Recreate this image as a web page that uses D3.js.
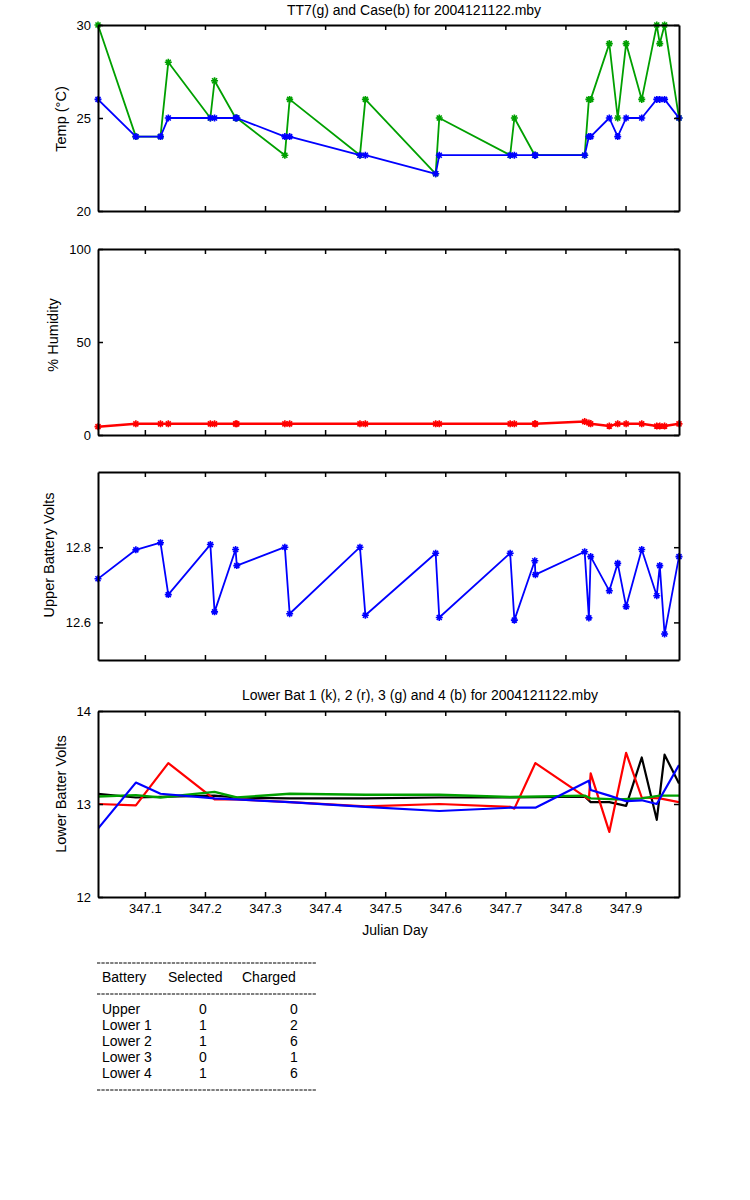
<!DOCTYPE html>
<html>
<head>
<meta charset="utf-8">
<script src="https://cdn.jsdelivr.net/npm/d3@7"></script>
<style>
  body { margin: 0; background: #fff; }
  svg { font-family: "Liberation Sans", Arial, sans-serif; }
</style>
</head>
<body>
<svg id="chart" width="750" height="1200"></svg>
<script>
// sample times (Julian day) shared by the top three panels
var days = [347.022, 347.085, 347.126, 347.139, 347.209, 347.216, 347.251, 347.253, 347.333, 347.341,
  347.458, 347.467, 347.584, 347.590, 347.708, 347.715, 347.749, 347.750, 347.832, 347.839,
  347.842, 347.873, 347.887, 347.901, 347.927, 347.952, 347.957, 347.965, 347.989];

// temperatures
var tt7 = [30, 24, 24, 28, 25, 27, 25, 25, 23, 26, 23, 26, 22, 25, 23, 25, 23, 23, 23, 26, 26, 29, 25, 29, 26, 30, 29, 30, 25];
var caseT = [26, 24, 24, 25, 25, 25, 25, 25, 24, 24, 23, 23, 22, 23, 23, 23, 23, 23, 23, 24, 24, 25, 24, 25, 25, 26, 26, 26, 25];

// humidity
var humidity = [4.5, 6, 6, 6, 6, 6, 6, 6, 6, 6, 6, 6, 6, 6, 6, 6, 6, 6, 7.2, 6.5, 6, 4.8, 6, 6, 6, 4.8, 4.8, 4.8, 6];

// upper battery
var upperBat = [12.716, 12.793, 12.812, 12.674, 12.807, 12.628, 12.794, 12.751, 12.800, 12.623,
  12.800, 12.619, 12.784, 12.613, 12.784, 12.606, 12.764, 12.727, 12.788, 12.612,
  12.775, 12.684, 12.757, 12.642, 12.794, 12.671, 12.751, 12.569, 12.775];

// lower batteries
var bat1Days = [347.022, 347.085, 347.139, 347.216, 347.253, 347.341, 347.467, 347.590, 347.715, 347.832, 347.842, 347.873, 347.901, 347.927, 347.952, 347.965, 347.989];
var bat1 = [13.11, 13.07, 13.08, 13.09, 13.07, 13.06, 13.06, 13.07, 13.07, 13.08, 13.02, 13.02, 12.98, 13.50, 12.83, 13.53, 13.22];
var bat2Days = [347.022, 347.085, 347.139, 347.216, 347.253, 347.341, 347.467, 347.590, 347.708, 347.715, 347.750, 347.839, 347.842, 347.873, 347.901, 347.927, 347.957, 347.989];
var bat2 = [13.00, 12.985, 13.44, 13.05, 13.05, 13.02, 12.975, 13.00, 12.97, 12.95, 13.44, 13.05, 13.33, 12.70, 13.55, 13.07, 13.06, 13.02];
var bat3Days = [347.022, 347.085, 347.126, 347.216, 347.253, 347.341, 347.467, 347.590, 347.708, 347.832, 347.842, 347.887, 347.927, 347.957, 347.989];
var bat3 = [13.08, 13.095, 13.07, 13.13, 13.07, 13.11, 13.10, 13.10, 13.075, 13.09, 13.06, 13.05, 13.06, 13.09, 13.09];
var bat4Days = [347.022, 347.085, 347.126, 347.216, 347.341, 347.467, 347.590, 347.708, 347.750, 347.839, 347.842, 347.873, 347.901, 347.927, 347.952, 347.989];
var bat4 = [12.735, 13.23, 13.11, 13.06, 13.02, 12.97, 12.925, 12.96, 12.96, 13.25, 13.15, 13.09, 13.03, 13.04, 13.00, 13.42];

// axis ticks
var xTicks = [347.1, 347.2, 347.3, 347.4, 347.5, 347.6, 347.7, 347.8, 347.9];

// status table
var tableHead = ["Battery", "Selected", "Charged"];
var batNames = ["Upper", "Lower 1", "Lower 2", "Lower 3", "Lower 4"];
var selected = [0, 1, 1, 0, 1];
var charged = [0, 2, 6, 1, 6];

var GREEN = "#00a000";
var svg = d3.select("#chart");
var x = d3.scaleLinear().domain([days[0], days[days.length - 1]]).range([98, 679]);

function zip(ds, vs) { return ds.map(function (d, i) { return [d, vs[i]]; }); }

var asterisk = "M-3.5,0H3.5M0,-3.5V3.5M-2.5,-2.5L2.5,2.5M-2.5,2.5L2.5,-2.5";

function panel(top, bottom, yDom, id) {
	var y = d3.scaleLinear().domain(yDom).range([bottom, top]);
	var g = svg.append("g");
	svg.append("clipPath").attr("id", id).append("rect")
		.attr("x", 98).attr("y", top).attr("width", 581).attr("height", bottom - top);
	return { y: y, g: g, top: top, bottom: bottom, clip: id };
}

function drawAxes(p, yTicks, showX) {
	var g = p.g;
	var ax = [
		[d3.axisLeft(p.y).tickValues(yTicks).tickFormat(d3.format("~g")), "translate(98,0)"],
		[d3.axisRight(p.y).tickValues(yTicks).tickFormat(""), "translate(679,0)"],
		[d3.axisTop(x).tickValues(xTicks).tickFormat(""), "translate(0," + p.top + ")"],
		[d3.axisBottom(x).tickValues(xTicks).tickFormat(showX ? d3.format(".1f") : ""), "translate(0," + p.bottom + ")"]
	];
	ax.forEach(function (a) {
		var s = g.append("g").attr("transform", a[1])
			.call(a[0].tickSizeInner(-5).tickSizeOuter(0).tickPadding(7));
		s.select(".domain").attr("stroke", "#000").attr("stroke-width", 2);
		s.selectAll(".tick line").attr("stroke", "#000").attr("stroke-width", 1.5);
		s.selectAll(".tick text").attr("font-size", 13).attr("fill", "#000")
			.attr("font-family", "Liberation Sans, Arial, sans-serif");
	});
}

function line(p, pts, color, w, markers) {
	var gen = d3.line().x(function (d) { return x(d[0]); }).y(function (d) { return p.y(d[1]); });
	p.g.append("path").datum(pts).attr("d", gen)
		.attr("clip-path", "url(#" + p.clip + ")")
		.attr("fill", "none").attr("stroke", color).attr("stroke-width", w)
		.attr("stroke-linejoin", "round");
	if (markers) {
		p.g.selectAll(null).data(pts).enter().append("path")
			.attr("d", asterisk)
			.attr("transform", function (d) { return "translate(" + x(d[0]) + "," + p.y(d[1]) + ")"; })
			.attr("fill", "none").attr("stroke", color).attr("stroke-width", 1.6);
	}
}

function ylabel(text, cx, cy) {
	svg.append("text").attr("transform", "translate(" + cx + "," + cy + ") rotate(-90)")
		.attr("text-anchor", "middle").attr("dy", "0.35em").attr("font-size", 14.5).text(text);
}

// Panel 1: temperatures
var p1 = panel(25, 211, [20, 30], "c1");
line(p1, zip(days, tt7), GREEN, 1.8, true);
line(p1, zip(days, caseT), "#0000ff", 1.8, true);
drawAxes(p1, [20, 25, 30], false);
ylabel("Temp  (\u00b0C)", 61, 119);
svg.append("text").attr("x", 414).attr("y", 15).attr("text-anchor", "middle")
	.attr("font-size", 14).text("TT7(g) and Case(b) for 2004121122.mby");

// Panel 2: humidity
var p2 = panel(249, 435, [0, 100], "c2");
line(p2, zip(days, humidity), "#ff0000", 2.5, true);
drawAxes(p2, [0, 50, 100], false);
ylabel("% Humidity", 53, 335);

// Panel 3: upper battery
var p3 = panel(472, 660, [12.5, 13.0], "c3");
line(p3, zip(days, upperBat), "#0000ff", 1.8, true);
drawAxes(p3, [12.6, 12.8], false);
ylabel("Upper Battery Volts", 49, 555);

// Panel 4: lower batteries
var p4 = panel(711, 897, [12, 14], "c4");
line(p4, zip(bat1Days, bat1), "#000000", 2.2, false);
line(p4, zip(bat2Days, bat2), "#ff0000", 2.2, false);
line(p4, zip(bat3Days, bat3), GREEN, 2.4, false);
line(p4, zip(bat4Days, bat4), "#0000ff", 2.2, false);
drawAxes(p4, [12, 13, 14], true);
ylabel("Lower Batter Volts", 61, 794);
svg.append("text").attr("x", 420).attr("y", 700).attr("text-anchor", "middle")
	.attr("font-size", 14).text("Lower Bat 1 (k), 2 (r), 3 (g) and 4 (b) for 2004121122.mby");
svg.append("text").attr("x", 395).attr("y", 935).attr("text-anchor", "middle")
	.attr("font-size", 14).text("Julian Day");

// Status table
var tbl = svg.append("g").attr("font-size", 14);
[963, 994, 1090].forEach(function (yy) {
	tbl.append("line").attr("x1", 97).attr("x2", 317).attr("y1", yy).attr("y2", yy)
		.attr("stroke", "#000").attr("stroke-width", 1).attr("stroke-dasharray", "3.3,1.1");
});
var headX = [102, 168, 242];
tableHead.forEach(function (h, i) {
	tbl.append("text").attr("x", headX[i]).attr("y", 982).text(h);
});
batNames.forEach(function (n, i) {
	var yy = 1014 + i * 16;
	tbl.append("text").attr("x", 102).attr("y", yy).text(n);
	tbl.append("text").attr("x", 203).attr("y", yy).attr("text-anchor", "middle").text(selected[i]);
	tbl.append("text").attr("x", 294).attr("y", yy).attr("text-anchor", "middle").text(charged[i]);
});
</script>
</body>
</html>
